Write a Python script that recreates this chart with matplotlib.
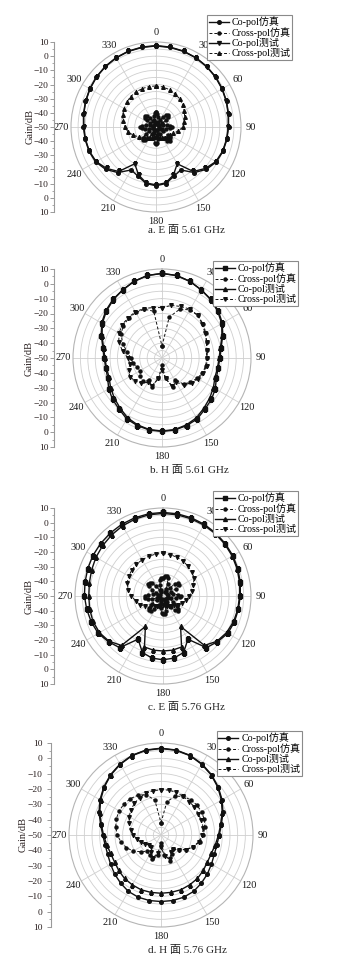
import numpy as np
import matplotlib
matplotlib.use("Agg")
import matplotlib.pyplot as plt

plt.rcParams['font.family'] = ['Liberation Serif', 'Noto Sans CJK SC']

W, H = 338, 969

# angles (deg, clockwise from top)
ang10 = list(range(0, 360, 10))
ang5 = list(range(0, 360, 5))

# ---- a. E plane 5.61 GHz ----
co_sim_a = [7.5, 7.3, 7, 6.5, 5.8, 5, 4, 3, 2, 1.2, 0.8, 0.3, -0.8, -3.5, -8, -15, -13, -9.5,
            -8.5, -9.5, -13, -15, -8, -3.5, -0.8, 0.3, 0.8, 1.2, 2, 3, 4, 5, 5.8, 6.5, 7, 7.3]
co_mea_a = [7.2, 7, 6.8, 6.3, 5.6, 4.8, 3.8, 2.8, 1.8, 1, 0.6, 0, -1.2, -4.5, -9, -20, -14, -10,
            -9, -10, -14, -20, -9, -4.5, -1.2, 0, 0.6, 1, 1.8, 2.8, 3.8, 4.8, 5.6, 6.3, 6.8, 7]
cx_sim_a = [-39.5, -40.5, -43, -46, -48, -47, -44, -41, -38.8,
            -38, -39, -41.5, -45, -47.5, -47.5, -45, -42, -39.8,
            -39, -40, -42.5, -45.5, -47.5, -47, -44, -40, -37.5,
            -36.5, -37.5, -40.5, -44.5, -47.5, -47.5, -45, -41.5, -39,
            -38, -39, -42, -45.5, -47.5, -47, -44, -40.5, -38,
            -37, -38, -41, -44.5, -47.5, -47.5, -45, -42, -40,
            -39, -40, -42.5, -45.5, -47.5, -47.5, -45, -42, -40,
            -39, -40, -42.5, -45.5, -47.5, -47.5, -45, -42, -40]
cx_mea_a = [-21, -21.3, -22, -23, -24, -25.5, -27, -28.5, -30, -31, -34, -37, -38.5, -39.5, -40,
            -41, -42, -43, -43.5, -43, -42, -41, -40, -38.5, -36, -33, -30, -28, -26.5, -25,
            -24, -23, -22, -21.5, -21.2, -21]

# ---- b. H plane 5.61 GHz ----
co_sim_b = [7, 6.5, 5, 3, 1.5, -0.5, -3, -6.5, -9.5, -11, -11.5, -11, -8.5, -6.5, -5, -2.5, -1.5, -0.7,
            -0.5, -0.7, -1.5, -2.5, -5, -6.5, -8.5, -11, -11.5, -11, -9.5, -6.5, -3, -0.5, 1.5, 3, 5, 6.5]
co_mea_b = [7, 6.5, 5, 3, 1.2, -1, -3.5, -7, -10, -11.5, -12, -12, -10, -8, -6, -3.5, -2, -1,
            -0.8, -1, -2, -3.5, -6, -8, -10, -12, -12, -11.5, -10, -7, -3.5, -1, 1.2, 3, 5, 6.5]
cx_sim_b = [-42, -22, -15, -12.5, -12.5, -14, -16, -18, -19.5, -20, -20, -21, -22.5, -25, -27, -33,
            -29, -36, -45, -36, -29.5, -33, -30, -31, -33, -32, -30, -29, -26, -22, -18, -16, -15,
            -14.5, -15, -18]
cx_mea_b = [-16, -14, -13, -12, -12.5, -14.5, -16.5, -18, -19, -19.5, -19.5, -20.5, -22, -24, -26.5,
            -31, -30, -36, -42, -36, -30, -31, -28, -26, -25, -26, -28, -27, -23, -19, -16.5, -15,
            -14.5, -14, -14.5, -15.5]

# ---- c. E plane 5.76 GHz ----
co_sim_c = [7, 6.9, 6.7, 6.4, 6, 5.5, 5, 4.3, 3.5, 2.7, 2.2, 1.8, 1, -1.5, -4, -16, -9, -7,
            -6.5, -7, -9, -16, -4, -1.5, 1, 2, 2.8, 3.6, 4, 4.6, 5.2, 5.6, 6, 6.4, 6.7, 6.9]
co_mea_c = [6.3, 6.2, 6, 5.8, 5.5, 5, 4.5, 3.8, 3, 2.2, 1.8, 1.2, 0, -2, -6, -26, -13, -12.5,
            -12.5, -12.5, -13, -26, -6, -2, 0, 0.8, 0.8, 0.6, 1, 1.8, 2.8, 3.6, 4.4, 5.2, 5.8, 6.2]
cx_sim_c = [-38, -36.5, -36, -37.5, -41, -45, -47, -46, -42.5,
            -38.5, -36.5, -37, -40, -44, -47, -46.5, -43, -39.5,
            -38, -38.5, -41, -44.5, -47, -46, -42, -38.5, -36.5,
            -36, -37.5, -41, -45, -47.5, -46.5, -43, -39.5, -38,
            -37.5, -38.5, -41.5, -45, -47.5, -46.5, -42.5, -39, -37,
            -36.5, -37.5, -41, -45, -47.5, -46, -42.5, -39.5, -38,
            -38, -39.5, -43, -46.5, -47.5, -45, -41.5, -38.5, -37,
            -37, -38.5, -42, -45.5, -47, -45.5, -42, -39, -38]
cx_mea_c = [-21, -21.3, -22, -22.5, -23.5, -24.5, -25.5, -28, -30, -32, -34, -36, -38, -40, -41,
            -42, -43, -44, -44, -44, -43, -42, -41, -39, -36, -33, -31, -28.5, -26, -24, -23,
            -22.3, -21.8, -21.5, -21.2, -21]

# ---- d. H plane 5.76 GHz ----
co_sim_d = [6.6, 6.3, 5.3, 3.5, 1.3, -1.3, -4, -7, -10, -12, -13, -13, -12, -10.5, -9, -7.5, -6.8, -6.6,
            -6.6, -6.6, -6.8, -7.5, -9, -10.5, -12, -13, -13, -12, -10, -7, -4, -1.3, 1.3, 3.5, 5.3, 6.3]
co_mea_d = [6.4, 6.1, 5.1, 3.2, 1, -1.6, -4.5, -7.5, -10.5, -12.5, -14, -15, -15, -14, -13, -12.5, -12, -12,
            -12, -12, -12, -12.5, -13, -14, -15, -15, -14, -12.5, -10.5, -7.5, -4.5, -1.6, 1, 3.2, 5.1, 6.1]
cx_sim_d = [-42, -28, -23, -21, -20, -19.5, -19.5, -20, -21, -22.5, -24.5, -27.5, -31, -35, -38, -36,
            -32, -37, -45, -37, -33, -35, -36, -33, -29, -26, -23.5, -21.5, -20, -19, -18.5, -18.5,
            -19, -20, -22, -27]
cx_mea_d = [-20.5, -20.3, -20.5, -21, -21.5, -21.5, -22, -22, -22, -23, -25, -27.5, -31, -35, -38, -37,
            -33, -36, -42, -38, -34, -37, -40, -40, -38, -36, -34, -32, -30, -28, -26, -24.5,
            -23, -22, -21, -20.7]

labels = ['Co-pol仿真', 'Cross-pol仿真', 'Co-pol测试', 'Cross-pol测试']
captions = ['a. E 面 5.61 GHz', 'b. H 面 5.61 GHz', 'c. E 面 5.76 GHz', 'd. H 面 5.76 GHz']
theta_labels = list(range(0, 360, 30))
gain_ticks = list(range(-60, 61, 10))

# layout in pixels: polar centre x, y, radius; gain axis x, tick pad, "Gain/dB" x;
# legend x, y; caption x, y
panels = [
    dict(co=(co_sim_a, co_mea_a), cx=(cx_sim_a, cx_mea_a), mk=('o', 'o', 'v', '^'),
         c=(156, 127, 85), gx=54, gp=1, gl=30, leg=(207, 15), cap=(148, 230)),
    dict(co=(co_sim_b, co_mea_b), cx=(cx_sim_b, cx_mea_b), mk=('s', 'o', '^', 'v'),
         c=(162, 358, 89), gx=54, gp=1, gl=29, leg=(213, 261), cap=(150, 470)),
    dict(co=(co_sim_c, co_mea_c), cx=(cx_sim_c, cx_mea_c), mk=('s', 'o', '^', 'v'),
         c=(163, 596, 88), gx=54, gp=1, gl=29, leg=(213, 491), cap=(148, 707)),
    dict(co=(co_sim_d, co_mea_d), cx=(cx_sim_d, cx_mea_d), mk=('o', 'o', '^', 'v'),
         c=(161, 835, 92), gx=51, gp=3, gl=23, leg=(217, 731), cap=(148, 950)),
]

fig = plt.figure(figsize=(W / 100, H / 100), dpi=100)


def closed(ang, vals):
    th = np.deg2rad(np.array(ang + [ang[0] + 360]))
    return th, np.array(vals + [vals[0]])


for i, p in enumerate(panels):
    cx, cy, R = p['c']
    ax = fig.add_axes([(cx - R) / W, 1 - (cy + R) / H, 2 * R / W, 2 * R / H], projection='polar')
    ax.set_theta_zero_location('N')
    ax.set_theta_direction(-1)
    ax.set_ylim(-50, 10)
    ax.set_yticks(np.arange(-45, 10, 5))
    ax.set_yticklabels([])
    ax.set_xticks(np.deg2rad(theta_labels))
    ax.set_xticklabels([])
    ax.grid(color='#cfcfcf', lw=0.6)
    ax.spines['polar'].set_color('#b5b5b5')
    ax.spines['polar'].set_linewidth(0.8)

    # angle labels just outside the rim
    r_lab = -50 + 60 * (R + 9.5) / R
    for a in theta_labels:
        ax.text(np.deg2rad(a), r_lab, str(a), ha='center', va='center', fontsize=7.5,
                color='#1a1a1a', clip_on=False)

    m = p['mk']
    cx_ang = ang5 if len(p['cx'][0]) == 72 else ang10
    h1, = ax.plot(*closed(ang10, p['co'][0]), color='#111', lw=1.0, marker=m[0], ms=2.6)
    h2, = ax.plot(*closed(cx_ang, p['cx'][0]), color='#111', lw=0.7, ls=(0, (3, 2)),
                  marker=m[1], ms=2.2)
    h3, = ax.plot(*closed(ang10, p['co'][1]), color='#111', lw=1.0, marker=m[2], ms=2.8)
    h4, = ax.plot(*closed(ang10, p['cx'][1]), color='#111', lw=0.7, ls=(0, (3, 2)),
                  marker=m[3], ms=2.6)

    lx, ly = p['leg']
    leg = fig.legend([h1, h2, h3, h4], labels, loc='upper left',
                     bbox_to_anchor=(lx / W, 1 - ly / H), borderaxespad=0,
                     fontsize=7.2, handlelength=2.0, handletextpad=0.3, labelspacing=0.0,
                     borderpad=0.15, handleheight=0.6, fancybox=False, framealpha=1,
                     edgecolor='#8a8a8a')
    leg.get_frame().set_linewidth(0.8)

    # separate gain scale on the left, same height as the polar diameter
    gax = fig.add_axes([p['gx'] / W, 1 - (cy + R) / H, 0.0005, 2 * R / H])
    gax.set_ylim(-60, 60)
    gax.set_xticks([])
    for s in ('top', 'right', 'bottom'):
        gax.spines[s].set_visible(False)
    gax.spines['left'].set_color('#9a9a9a')
    gax.spines['left'].set_linewidth(0.8)
    gax.set_yticks(gain_ticks)
    gax.set_yticklabels([str(abs(v) - 50).replace('-', '\u2212') for v in gain_ticks])
    gax.set_yticks(np.arange(-55, 60, 10), minor=True)
    gax.tick_params(axis='y', which='major', length=3, width=0.7, color='#9a9a9a',
                    labelsize=6.8, pad=p['gp'], labelcolor='#2a2020')
    gax.tick_params(axis='y', which='minor', length=1.8, width=0.6, color='#9a9a9a')
    gax.patch.set_visible(False)
    fig.text(p['gl'] / W, 1 - cy / H, 'Gain/dB', rotation=90, ha='center', va='center',
             fontsize=7.5, color='#2a2020')

    capx, capy = p['cap']
    fig.text(capx / W, 1 - capy / H, captions[i], ha='left', va='center', fontsize=8,
             color='#222')

fig.savefig('out.png', dpi=100)
